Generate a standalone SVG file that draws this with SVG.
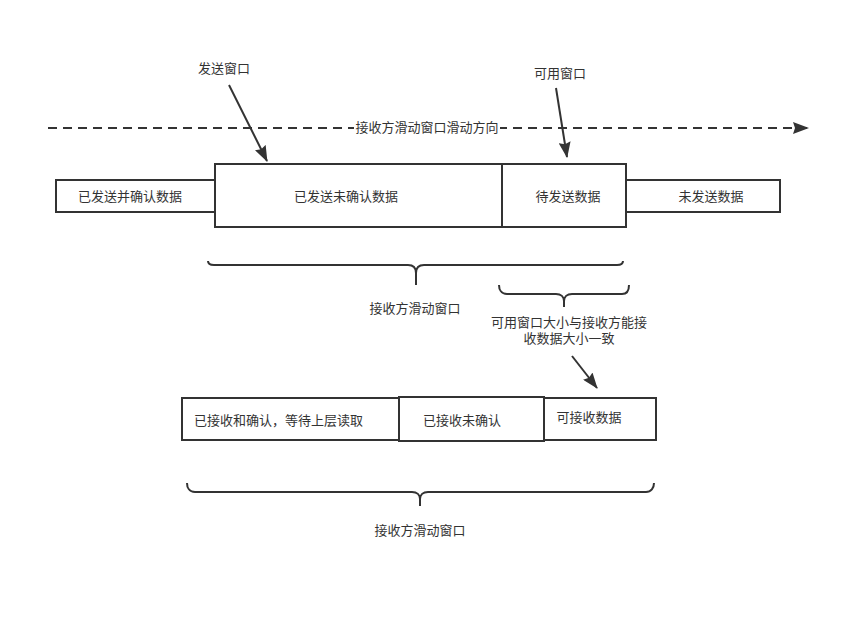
<svg xmlns="http://www.w3.org/2000/svg" width="868" height="627" viewBox="0 0 868 627">
<defs>
<marker id="ah2" markerWidth="16" markerHeight="12" refX="15" refY="6" orient="auto" markerUnits="userSpaceOnUse" viewBox="0 0 16 12">
<path d="M0,0 L16,6 L0,12 L2,6 Z" fill="#333"/>
</marker>
<style>
.box{fill:#fff;stroke:#333;stroke-width:2}
.t{font-family:"Liberation Sans","Noto Sans CJK SC",sans-serif;font-size:13px;fill:#333;text-anchor:middle}
.ln{fill:none;stroke:#333;stroke-width:2}
</style>
</defs>
<rect width="868" height="627" fill="#fff"/>
<g id="connectors">
<line x1="48" y1="128" x2="808" y2="128" class="ln" stroke-dasharray="9 6" marker-end="url(#ah2)"/>
<rect x="354" y="120" width="146" height="16" fill="#fff"/>
<line x1="229" y1="85" x2="267" y2="161" class="ln" marker-end="url(#ah2)"/>
<line x1="556" y1="88" x2="567" y2="157" class="ln" marker-end="url(#ah2)"/>
<line x1="572" y1="356" x2="597" y2="388" class="ln" marker-end="url(#ah2)"/>
<path class="ln" d="M208,261 C208,264 210,265 214,265 L408,265 C413,265 416,268 416,273 L416,285 M416,273 C416,268 419,265 424,265 L617,265 C621,265 623,264 623,261"/>
<path class="ln" d="M499,285 C499,289 501,294 507,294 L556,294 C561,294 564,297 564,301 L564,307 M564,301 C564,297 567,294 572,294 L622,294 C627,294 629,290 629,285"/>
<path class="ln" d="M187,483 C187,487 189,492 195,492 L412,492 C417,492 420,495 420,499 L420,506 M420,499 C420,495 423,492 428,492 L646,492 C651,492 654,488 654,483"/>
</g>
<text class="t" x="427" y="132">接收方滑动窗口滑动方向</text>
<g id="label-send"><text class="t" x="224" y="73">发送窗口</text></g>
<g id="label-avail"><text class="t" x="560" y="78">可用窗口</text></g>
<g id="n1"><rect class="box" x="56" y="180" width="159" height="32"/><text class="t" x="130" y="201">已发送并确认数据</text></g>
<g id="n2"><rect class="box" x="215" y="164" width="287" height="63"/><text class="t" x="346" y="201">已发送未确认数据</text></g>
<g id="n3"><rect class="box" x="502" y="164" width="124" height="63"/><text class="t" x="568" y="201">待发送数据</text></g>
<g id="n4"><rect class="box" x="626" y="180" width="154" height="32"/><text class="t" x="711" y="201">未发送数据</text></g>
<g id="label-rw1"><text class="t" x="415" y="313">接收方滑动窗口</text></g>
<g id="label-eq"><text class="t" x="569" y="327">可用窗口大小与接收方能接</text><text class="t" x="569" y="343">收数据大小一致</text></g>
<g id="r1"><rect class="box" x="182" y="398" width="217" height="42"/><text class="t" x="194" y="425" style="text-anchor:start">已接收和确认，等待上层读取</text></g>
<g id="r2"><rect class="box" x="399" y="397" width="145" height="44"/><text class="t" x="462" y="425">已接收未确认</text></g>
<g id="r3"><rect class="box" x="544" y="398" width="112" height="42"/><text class="t" x="589" y="422">可接收数据</text></g>
<g id="label-rw2"><text class="t" x="420" y="535">接收方滑动窗口</text></g>
</svg>
